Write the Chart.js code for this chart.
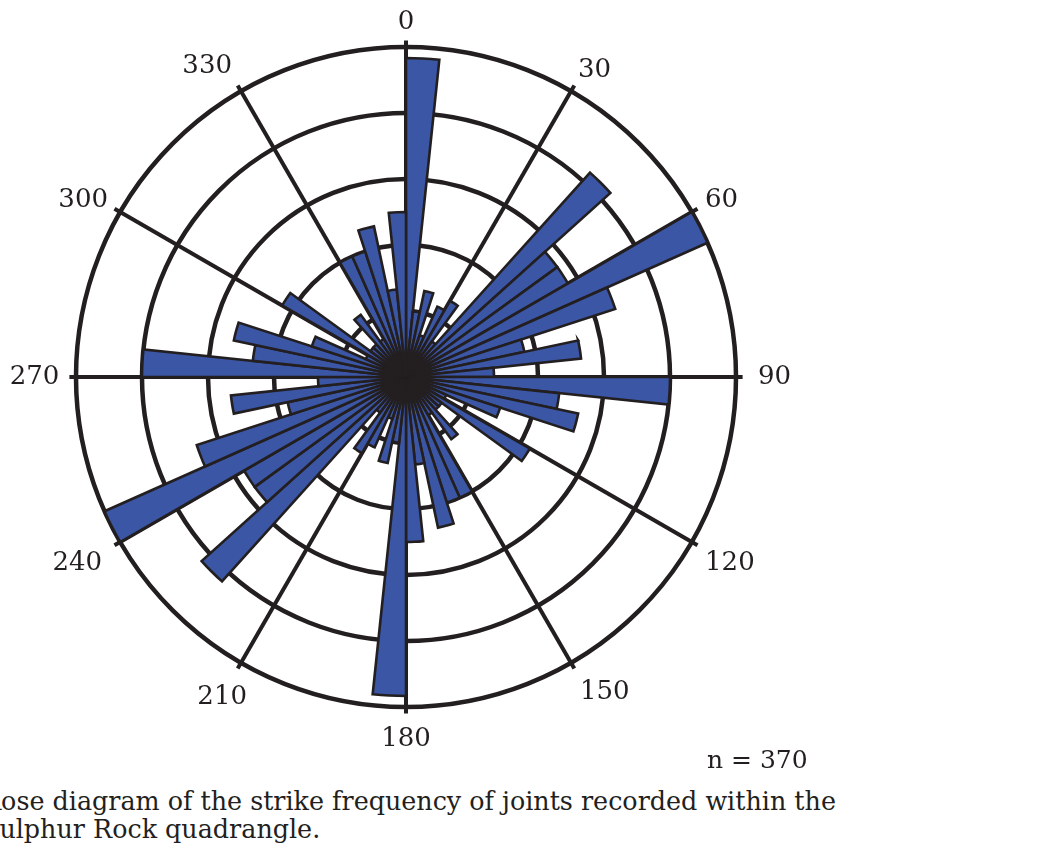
<!DOCTYPE html>
<html>
<head>
<meta charset="utf-8">
<title>Rose diagram - joint strikes</title>
<script src="https://cdn.jsdelivr.net/npm/chart.js@4.4.1/dist/chart.umd.min.js"></script>
<style>
  html, body { margin: 0; padding: 0; background: #fff; }
  body {
    width: 1048px; height: 863px; position: relative; overflow: hidden;
    font-family: "DejaVu Serif", serif; color: #231f20;
  }
  #roseChart { position: absolute; left: -44px; top: 5px; }
  .note { position: absolute; font-size: 25.4px; line-height: 28px; white-space: nowrap; }
  #count { left: 707px; top: 746px; font-size: 25px; }
  #caption { left: -18px; top: 787px; }
</style>
</head>
<body>
<canvas id="roseChart" width="900" height="746"></canvas>
<div id="count" class="note">n = 370</div>
<div id="caption" class="note">Rose diagram of the strike frequency of joints recorded within the<br>Sulphur Rock quadrangle.</div>

<script>
/* ===== Data ===== */

// 6 degree strike bins, clockwise from north
const binStart = [
  0, 6, 12, 18, 24, 30, 36, 42, 48, 54,
  60, 66, 72, 78, 84, 90, 96, 102, 108, 114,
  120, 126, 132, 138, 144, 150, 156, 162, 168, 174,
  180, 186, 192, 198, 204, 210, 216, 222, 228, 234,
  240, 246, 252, 258, 264, 270, 276, 282, 288, 294,
  300, 306, 312, 318, 324, 330, 336, 342, 348, 354
];

// joints per bin (a strike shows up in both opposite directions)
const jointCounts = [
  29, 6, 8, 4, 7, 8, 4, 25, 17, 17,
  30, 20, 11, 16, 8, 24, 14, 16, 9, 4,
  13, 4, 4, 7, 4, 12, 12, 14, 8, 15,
  29, 6, 8, 4, 7, 8, 4, 25, 17, 17,
  30, 20, 11, 16, 8, 24, 14, 16, 9, 4,
  13, 4, 4, 7, 4, 12, 12, 14, 8, 15
];

// compass labels every 30 degrees
const compassLabels = ['0', '30', '60', '90', '120', '150', '180', '210', '240', '270', '300', '330'];

/* ===== Chart ===== */

const ink = '#231f20';
// nudges so each compass label sits where the printed one does
const labelPad = [0.2, 7.4, 8.7, 15.4, 8.7, 11.4, 15.2, -18.6, 14.4, 10, 7.5, 11.4];
const labelLine = [1.39, 0.66, 0.34, 1.2, 1.07, 1.08, 0.815, 3.43, 0.81, 1.2, 0.35, 0.7];

new Chart(document.getElementById('roseChart'), {
  type: 'polarArea',
  data: {
    labels: binStart.map(d => d + '-' + (d + 6) + '°'),
    datasets: [{
      label: 'Joints',
      data: jointCounts,
      backgroundColor: '#3b56a5',
      borderColor: ink,
      borderWidth: 2.6,
      borderJoinStyle: 'miter'
    }]
  },
  options: {
    responsive: false,
    animation: false,
    layout: { padding: 0 },
    plugins: {
      legend: { display: false },
      tooltip: { enabled: false }
    },
    scales: {
      r: {
        min: 0,
        max: 30.6, // spokes poke a little past the outer ring
        bounds: 'data',
        startAngle: 0,
        ticks: { display: false, stepSize: 6, includeBounds: false },
        grid: { circular: true, color: ink, lineWidth: 4.5 },
        angleLines: {
          display: true,
          color: ink,
          lineWidth: ctx => (ctx.index % 5 === 0 ? 4 : 0)
        },
        pointLabels: {
          display: true,
          callback: (label, i) => (i % 5 === 0 ? compassLabels[i / 5] : ''),
          padding: ctx => (ctx.index % 5 === 0 ? labelPad[ctx.index / 5] : 5),
          color: ink,
          font: ctx => ({
            family: 'DejaVu Serif',
            size: 26,
            lineHeight: ctx.index % 5 === 0 ? labelLine[ctx.index / 5] : 0.5
          })
        }
      }
    }
  }
});
</script>
</body>
</html>
